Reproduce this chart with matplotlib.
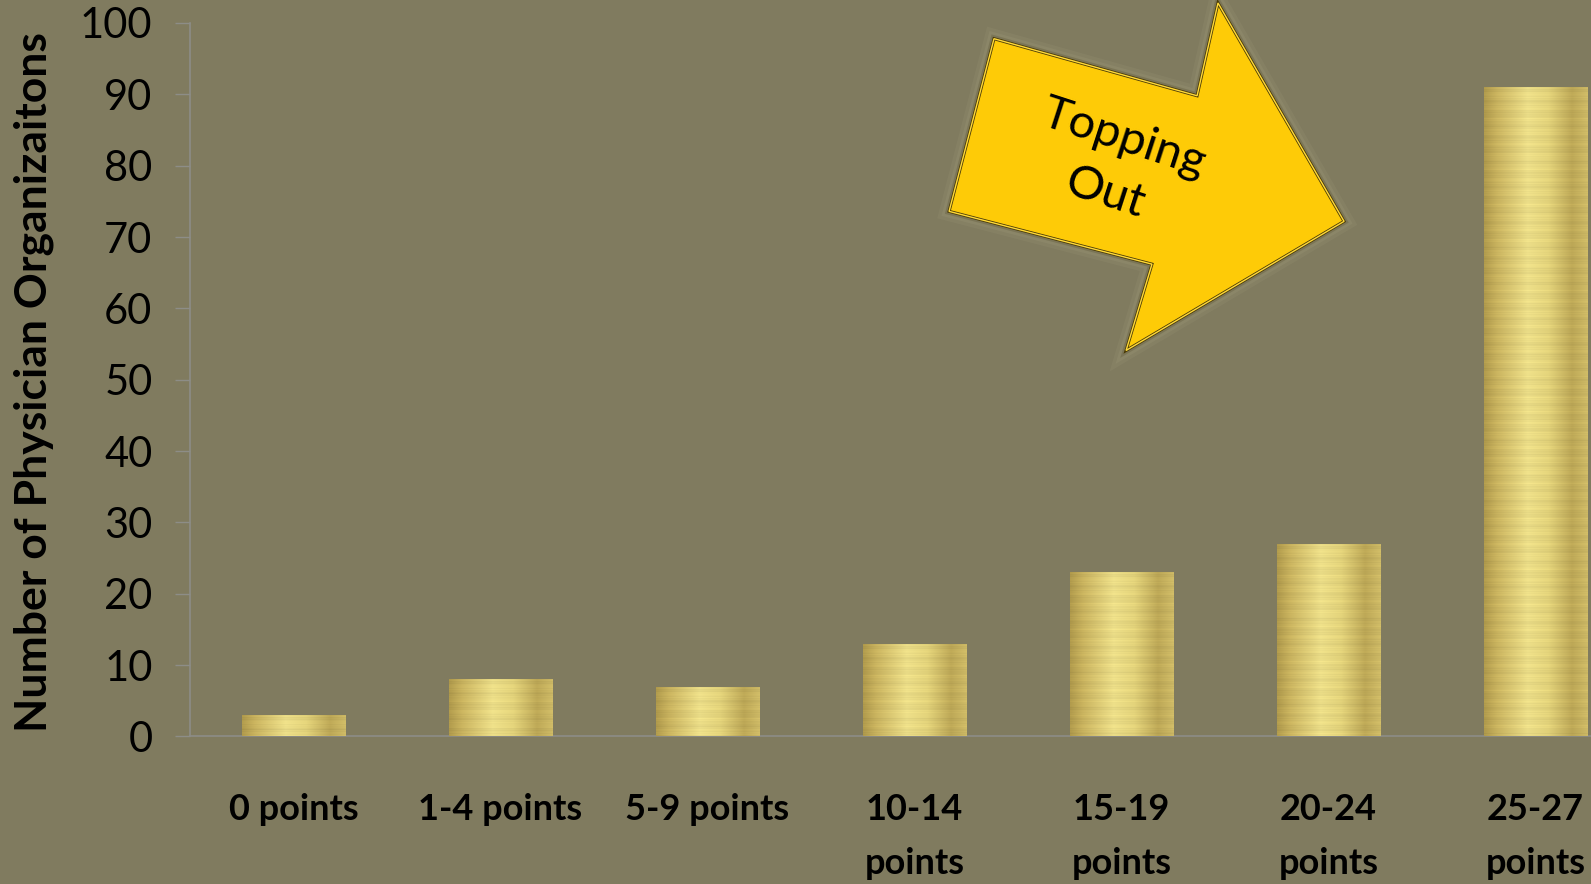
import numpy as np
import matplotlib
matplotlib.use("Agg")
import matplotlib.pyplot as plt
from matplotlib.patches import Polygon
import matplotlib.patheffects as pe

plt.rcParams['font.family'] = ['Lato', 'DejaVu Sans']

categories = ["0 points", "1-4 points", "5-9 points", "10-14\npoints",
              "15-19\npoints", "20-24\npoints", "25-27\npoints"]
counts = [3, 8, 7, 13, 23, 27, 91]
yticks = [0, 10, 20, 30, 40, 50, 60, 70, 80, 90, 100]

BG = '#807b5f'

fig = plt.figure(figsize=(15.91, 8.84), dpi=100, facecolor=BG)
ax = fig.add_axes([0.1194, 0.1669, 0.9108, 0.8071])
ax.set_facecolor(BG)

x = np.arange(len(categories))
bars = ax.bar(x, counts, width=0.5, color='#d6c271', zorder=2)

# brushed-gold fill: bright stripe left of centre, darker edges, fine horizontal streaks
cols = np.linspace(0, 1, 120)
stops = [0.0, 0.12, 0.42, 0.62, 0.85, 1.0]
r = np.interp(cols, stops, [176, 200, 236, 226, 188, 206])
g = np.interp(cols, stops, [154, 178, 222, 210, 167, 186])
b = np.interp(cols, stops, [76, 94, 136, 122, 86, 102])
rows = np.arange(1200)
streak = (0.025 * np.sin(rows * 1.93) + 0.02 * np.sin(rows * 3.31 + 1.0)
          + 0.015 * np.sin(rows * 7.17 + 2.0) + 0.02 * np.sin(rows * 0.37))
tex = np.stack([r, g, b], axis=-1)[None, :, :] / 255.0
tex = np.clip(tex * (1 - streak[:, None, None]), 0, 1)

for bar in bars:
    x0, w, h = bar.get_x(), bar.get_width(), bar.get_height()
    n = max(int(h * 10), 8)
    im = ax.imshow(tex[:n], extent=(x0, x0 + w, 0, h), aspect='auto',
                   interpolation='bilinear', zorder=3)
    im.set_clip_path(bar)

ax.set_xlim(-0.5, len(categories) - 0.5)
ax.set_ylim(0, 100)
ax.set_yticks(yticks)
ax.set_xticks(x)
ax.set_xticklabels(categories, fontsize=26, fontweight='bold', linespacing=1.78)
ax.tick_params(axis='x', length=0, pad=41)
ax.tick_params(axis='y', length=11, width=1, color='#8d8d87', pad=16, labelsize=30)

for side in ('top', 'right'):
    ax.spines[side].set_visible(False)
for side in ('left', 'bottom'):
    ax.spines[side].set_color('#8d8d87')
    ax.spines[side].set_linewidth(1.2)

ax.set_ylabel("Number of Physician Organizaitons", fontsize=32, fontweight='bold')
ax.yaxis.set_label_coords(-0.108, 0.497)
ax.yaxis.label.set_va('center')

# "Topping Out" callout arrow
arrow_pts = [(3.384, 97.8), (4.365, 89.8), (4.466, 102.8), (5.075, 72.2),
             (4.022, 54.1), (4.147, 66.2), (3.167, 73.6)]
arrow = Polygon(arrow_pts, closed=True, facecolor='#fecb07', edgecolor='#4a3b06',
                lw=2.2, zorder=5, clip_on=False)
arrow.set_path_effects([pe.Stroke(linewidth=14, foreground='#a49f80', alpha=0.15),
                        pe.Stroke(linewidth=9, foreground='#a49f80', alpha=0.2),
                        pe.Stroke(linewidth=5, foreground='#5e5838', alpha=0.35),
                        pe.Normal()])
ax.add_patch(arrow)
inner = Polygon(arrow_pts, closed=True, facecolor='none', edgecolor='#ffd93a',
                lw=1.0, zorder=5, clip_on=False)
ax.add_patch(inner)

ax.text(3.965, 80.0, "Topping\nOut", fontsize=34, rotation=-18, rotation_mode='anchor',
        ha='center', va='center', linespacing=1.45, color='black', zorder=6)

fig.savefig("out.png", dpi=100, facecolor=BG)
